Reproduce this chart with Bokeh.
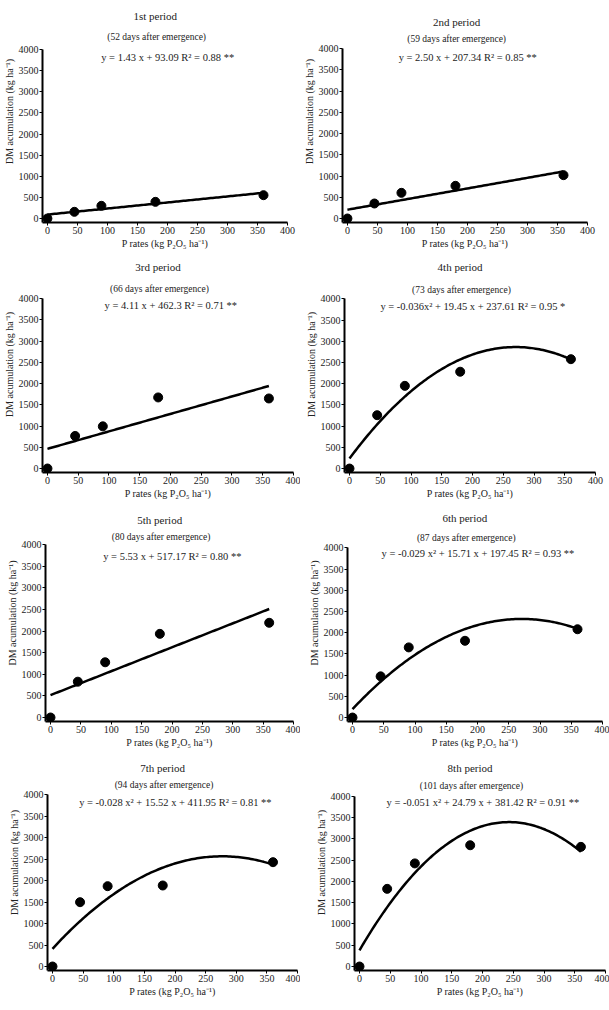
import numpy as np
from bokeh.plotting import figure
from bokeh.models import Range1d, FixedTicker, Label
from bokeh.layouts import column, row
from bokeh.embed import file_html
from bokeh.resources import INLINE

# ---------------- data ----------------
p_rates = [0, 45, 90, 180, 360]

dm_1st = [0, 158, 300, 394, 552]
dm_2nd = [0, 353, 604, 769, 1020]
dm_3rd = [0, 766, 992, 1672, 1648]
dm_4th = [0, 1258, 1950, 2283, 2579]
dm_5th = [0, 828, 1277, 1934, 2190]
dm_6th = [0, 971, 1654, 1810, 2082]
dm_7th = [0, 1496, 1868, 1884, 2426]
dm_8th = [0, 1825, 2423, 2850, 2812]

# regression coefficients: [x^2, x, intercept]
coef_1st = [0.0, 1.43, 93.09]
coef_2nd = [0.0, 2.50, 207.34]
coef_3rd = [0.0, 4.11, 462.3]
coef_4th = [-0.036, 19.45, 237.61]
coef_5th = [0.0, 5.53, 517.17]
coef_6th = [-0.029, 15.71, 197.45]
coef_7th = [-0.028, 15.52, 411.95]
coef_8th = [-0.051, 24.79, 381.42]

period_titles = ["1st  period", "2nd period", "3rd  period", "4th  period",
                 "5th  period", "6th  period", "7th  period", "8th  period"]
days_labels = ["(52  days after emergence)", "(59  days after emergence)",
               "(66  days after emergence)", "(73  days after emergence)",
               "(80  days after emergence)", "(87  days after emergence)",
               "(94  days after emergence)", "(101  days after emergence)"]
equations = [
    "y = 1.43 x +  93.09  R² = 0.88  **",
    "y = 2.50 x +  207.34  R² = 0.85  **",
    "y = 4.11 x +  462.3  R² = 0.71  **",
    "y = -0.036x² + 19.45 x +  237.61  R² = 0.95  *",
    "y = 5.53 x +  517.17  R² = 0.80  **",
    "y = -0.029 x² + 15.71 x +  197.45  R² = 0.93  **",
    "y = -0.028 x² + 15.52 x +  411.95  R² = 0.81  **",
    "y = -0.051 x² + 24.79 x +  381.42  R² = 0.91  **",
]
x_ticks = [0, 50, 100, 150, 200, 250, 300, 350, 400]
y_ticks = [0, 500, 1000, 1500, 2000, 2500, 3000, 3500, 4000]
x_label = "P rates (kg P₂O₅ ha⁻¹)"
y_label = "DM acumulation (kg ha⁻¹)"

series = [dm_1st, dm_2nd, dm_3rd, dm_4th, dm_5th, dm_6th, dm_7th, dm_8th]
coefs = [coef_1st, coef_2nd, coef_3rd, coef_4th, coef_5th, coef_6th, coef_7th, coef_8th]

# ---------------- layout geometry (pixels, relative to each figure) ----------------
# (fig_w, fig_h, x0_px, x400_px, y4000_px, y0_px, title_off, days_off, eq_off)
geom = [
    (300, 256, 41, 287, 49, 218, 34, 13, -8),
    (309, 256, 43, 287, 48, 218, 27, 10, -9),
    (300, 248, 45, 293, 42, 212, 32, 10, -7),
    (309, 248, 49, 295, 43, 215, 32, 9, -8),
    (300, 250, 50, 293, 40, 213, 25, 8, -12),
    (309, 250, 52, 302, 44, 216, 30, 10, -6),
    (300, 256, 52, 297, 40, 212, 27, 10, -8),
    (309, 256, 59, 305, 42, 213, 28, 10, -6),
]

FONT = "Liberation Serif"
TXT = "#222222"
PADX = 5
PADY = 4


def make_panel(i):
    w, h, x0, x400, yt, y0, t_off, d_off, e_off = geom[i]
    sx = (x400 - x0) / 400.0
    sy = (y0 - yt) / 4000.0
    y_lo = -PADY / sy
    p = figure(width=w, height=h,
               x_range=Range1d(-PADX / sx, 400), y_range=Range1d(y_lo, 4000 + yt / sy),
               min_border_left=x0 - PADX, min_border_right=w - x400,
               min_border_top=0, min_border_bottom=h - (y0 + PADY),
               output_backend="svg", toolbar_location=None, title=None)
    p.outline_line_color = None
    p.grid.visible = False
    p.background_fill_color = "white"
    p.border_fill_color = "white"

    for ax in (p.xaxis, p.yaxis):
        ax.axis_line_width = 2
        ax.axis_line_color = "black"
        ax.major_tick_line_color = "black"
        ax.major_tick_line_width = 1
        ax.major_tick_out = 3
        ax.major_tick_in = 0
        ax.minor_tick_line_color = None
        ax.major_label_text_font = FONT
        ax.major_label_text_font_size = "10px"
        ax.major_label_text_color = TXT
        ax.axis_label_text_font = FONT
        ax.axis_label_text_font_size = "10px"
        ax.axis_label_text_font_style = "normal"
        ax.axis_label_text_color = TXT
        ax.major_label_standoff = 1
        ax.axis_label_standoff = 1
    p.xaxis.ticker = FixedTicker(ticks=x_ticks)
    p.yaxis.ticker = FixedTicker(ticks=y_ticks)
    p.yaxis.bounds = (y_lo, 4000)
    p.xaxis.axis_label = x_label
    p.yaxis.axis_label = y_label

    c = coefs[i]
    xf = np.linspace(p_rates[0], p_rates[-1], 120)
    yf = c[0] * xf ** 2 + c[1] * xf + c[2]
    p.line(xf, yf, line_color="black", line_width=2.5)
    p.scatter(p_rates, series[i], size=9, color="black")

    p.add_layout(Label(x=182, y=4000, y_offset=t_off, text=period_titles[i],
                       text_font=FONT, text_font_size="11px", text_color=TXT,
                       text_font_style="normal",
                       text_align="center", text_baseline="middle"))
    p.add_layout(Label(x=184, y=4000, y_offset=d_off, text=days_labels[i],
                       text_font=FONT, text_font_size="9.5px", text_color=TXT,
                       text_font_style="normal",
                       text_align="center", text_baseline="middle"))
    p.add_layout(Label(x=207, y=4000, y_offset=e_off, text=equations[i],
                       text_font=FONT, text_font_size="10.5px", text_color=TXT,
                       text_font_style="normal",
                       text_align="center", text_baseline="middle"))
    return p


panels = [make_panel(i) for i in range(8)]
layout = column(row(panels[0], panels[1]), row(panels[2], panels[3]),
                row(panels[4], panels[5]), row(panels[6], panels[7]))

open("out.html", "w").write(file_html(layout, INLINE))
